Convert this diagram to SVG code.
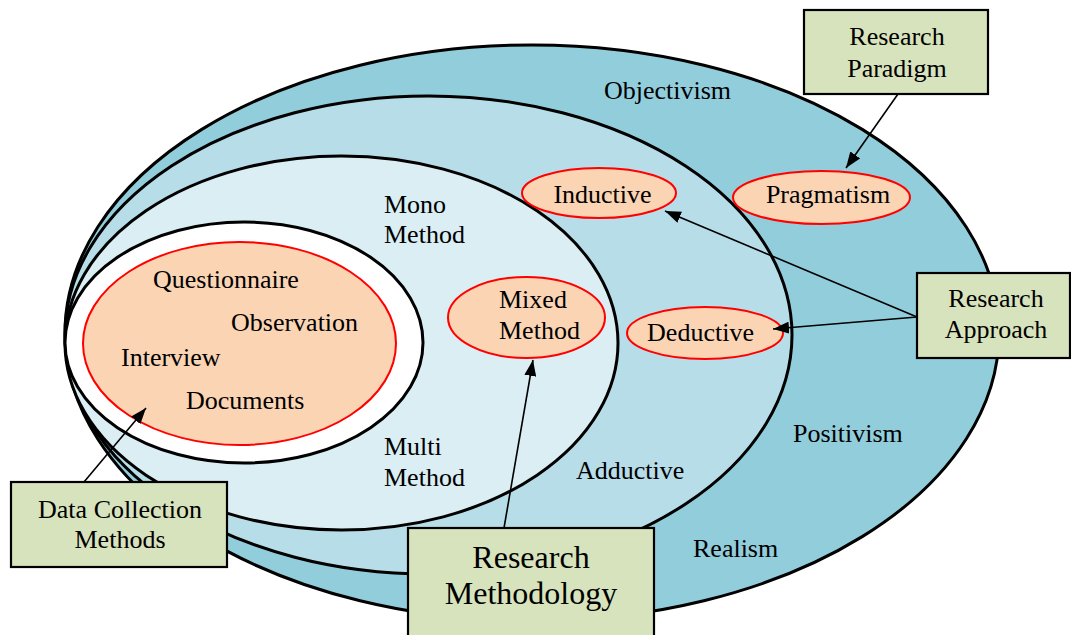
<svg xmlns="http://www.w3.org/2000/svg" width="1071" height="635" viewBox="0 0 1071 635">
  <style>
    .ring { stroke: #000; stroke-width: 3; }
    .item { fill: #FBD4B4; stroke: #FF0000; stroke-width: 2; }
    .box { fill: #D7E3BC; stroke: #000; stroke-width: 2.2; }
    text { font-family: "Liberation Serif", "Times New Roman", serif; font-size: 26px; fill: #000; }
    .mid { text-anchor: middle; }
    .big { font-size: 32px; }
    .link { stroke: #000; stroke-width: 1.6; fill: none; marker-end: url(#head); }
  </style>
  <defs>
    <marker id="head" markerUnits="userSpaceOnUse" markerWidth="16" markerHeight="12" refX="16" refY="6" orient="auto">
      <path d="M0,0 L16,6 L0,12 z" fill="#000"/>
    </marker>
  </defs>

  <!-- nested layers, outermost first -->
  <g id="layer-paradigm">
    <ellipse class="ring" cx="532" cy="333" rx="467" ry="288" fill="#92CDDC"/>
    <text x="604" y="99">Objectivism</text>
    <text x="793" y="442">Positivism</text>
    <text x="693" y="557">Realism</text>
  </g>
  <g id="layer-approach">
    <ellipse class="ring" cx="428.5" cy="335" rx="363.5" ry="239" fill="#B7DDE8"/>
    <text x="576" y="479">Adductive</text>
  </g>
  <g id="layer-methodology">
    <ellipse class="ring" cx="341.5" cy="343" rx="276.5" ry="187" fill="#DAEEF3"/>
    <text x="384" y="213">Mono</text>
    <text x="384" y="243">Method</text>
    <text x="384" y="455">Multi</text>
    <text x="384" y="486">Method</text>
  </g>
  <g id="layer-data">
    <ellipse class="ring" cx="244" cy="342.5" rx="179" ry="120.5" fill="#FFFFFF"/>
    <ellipse class="item" cx="239.5" cy="343.5" rx="156.5" ry="101.5"/>
    <text x="153" y="288">Questionnaire</text>
    <text x="231" y="331">Observation</text>
    <text x="121" y="366">Interview</text>
    <text x="186" y="409">Documents</text>
  </g>

  <!-- option ellipses -->
  <g id="inductive">
    <ellipse class="item" cx="599" cy="193" rx="77" ry="25"/>
    <text class="mid" x="602.5" y="203">Inductive</text>
  </g>
  <g id="pragmatism">
    <ellipse class="item" cx="821.5" cy="197.5" rx="88.5" ry="26.5"/>
    <text class="mid" x="828" y="203">Pragmatism</text>
  </g>
  <g id="deductive">
    <ellipse class="item" cx="705" cy="333" rx="78" ry="26"/>
    <text class="mid" x="700.5" y="341">Deductive</text>
  </g>
  <g id="mixed-method">
    <ellipse class="item" cx="526.5" cy="317.5" rx="78.5" ry="40.5"/>
    <text x="499" y="308">Mixed</text>
    <text x="499" y="339">Method</text>
  </g>

  <!-- connectors -->
  <g id="connectors">
    <line class="link" x1="898" y1="94" x2="846" y2="168"/>
    <line class="link" x1="917" y1="317" x2="665" y2="211"/>
    <line class="link" x1="917" y1="317" x2="773" y2="329"/>
    <line class="link" x1="84" y1="482" x2="146" y2="408"/>
    <line class="link" x1="504" y1="528" x2="533" y2="360"/>
  </g>

  <!-- label boxes -->
  <g id="box-paradigm">
    <rect class="box" x="804" y="10" width="184" height="84"/>
    <text class="mid" x="897" y="45">Research</text>
    <text class="mid" x="897" y="77">Paradigm</text>
  </g>
  <g id="box-approach">
    <rect class="box" x="917" y="273" width="153" height="85"/>
    <text class="mid" x="996" y="307">Research</text>
    <text class="mid" x="996" y="338">Approach</text>
  </g>
  <g id="box-data">
    <rect class="box" x="11" y="482" width="216" height="85"/>
    <text class="mid" x="120" y="518">Data Collection</text>
    <text class="mid" x="120" y="548">Methods</text>
  </g>
  <g id="box-methodology">
    <rect class="box" x="408" y="528" width="246" height="112"/>
    <text class="mid big" x="531" y="568">Research</text>
    <text class="mid big" x="531" y="604">Methodology</text>
  </g>
</svg>
